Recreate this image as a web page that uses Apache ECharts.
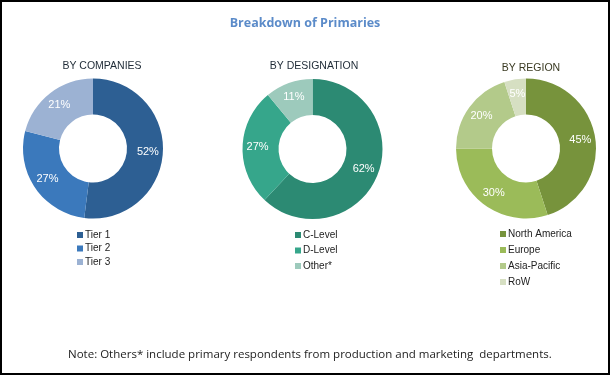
<!DOCTYPE html>
<html><head><meta charset="utf-8">
<script src="https://cdn.jsdelivr.net/npm/echarts@6/dist/echarts.min.js"></script>
<style>html,body{margin:0;padding:0;background:#fff}#c{width:610px;height:375px}</style>
</head><body><div id="c"></div>
<script>
const companyNames = ['Tier 1', 'Tier 2', 'Tier 3'];
const companyValues = [52, 27, 21];
const companyColors = ['#2D5F93', '#3B79BC', '#9CB2D3'];

const designationNames = ['C-Level', 'D-Level', 'Other*'];
const designationValues = [62, 27, 11];
const designationColors = ['#2C8A73', '#36A68B', '#9DCABC'];

const regionNames = ['North America', 'Europe', 'Asia-Pacific', 'RoW'];
const regionValues = [45, 30, 20, 5];
const regionColors = ['#77933C', '#9BBB59', '#B3CA8A', '#D6DFC2'];

const chartTitle = 'Breakdown of Primaries';
const subTitles = ['BY COMPANIES', 'BY DESIGNATION', 'BY REGION'];
const noteText = 'Note: Others* include primary respondents from production and marketing  departments.';

const FONT = '"Liberation Sans", Arial, sans-serif';

function donut(names, values, colors, cx, cy) {
  return {
    type: 'pie',
    center: [cx, cy],
    radius: [34, 70],
    startAngle: 90,
    clockwise: true,
    silent: true,
    data: names.map((n, i) => ({ name: n, value: values[i], itemStyle: { color: colors[i] } })),
    label: { show: true, position: 'inside', formatter: '{c}%', color: '#fff', fontSize: 11, fontFamily: FONT },
    labelLine: { show: false },
    itemStyle: { borderColor: '#fff', borderWidth: 0 },
    emphasis: { disabled: true }
  };
}

function legend(names, colors, left, top, gap) {
  return {
    orient: 'vertical',
    left: left, top: top,
    itemWidth: 6, itemHeight: 6, itemGap: gap,
    icon: 'rect',
    data: names,
    textStyle: { fontSize: 10, color: '#222', fontFamily: FONT, padding: [0, 0, 0, -3] },
    selectedMode: false
  };
}

const chart = echarts.init(document.getElementById('c'), null, { renderer: 'canvas' });
chart.setOption({
  animation: false,
  backgroundColor: '#fff',
  title: [
    { text: chartTitle, left: 'center', top: 12, textStyle: { color: '#5B8BC9', fontSize: 12.5, fontWeight: 'bold', fontFamily: '"Open Sans", sans-serif' } },
    { text: subTitles[0], left: 97, top: 56, textAlign: 'center', textStyle: { color: '#1E2A36', fontSize: 10.5, fontWeight: 'normal', fontFamily: FONT } },
    { text: subTitles[1], left: 309, top: 56, textAlign: 'center', textStyle: { color: '#1E2A36', fontSize: 10.5, fontWeight: 'normal', fontFamily: FONT } },
    { text: subTitles[2], left: 526, top: 58, textAlign: 'center', textStyle: { color: '#3A3A22', fontSize: 10.5, fontWeight: 'normal', fontFamily: FONT } }
  ],
  legend: [
    legend(companyNames, companyColors, 72, 225, 3.5),
    legend(designationNames, designationColors, 290, 225, 5.5),
    legend(regionNames, regionColors, 495, 224, 6)
  ],
  series: [
    donut(companyNames, companyValues, companyColors, 93, 148.5),
    donut(designationNames, designationValues, designationColors, 312.5, 149),
    donut(regionNames, regionValues, regionColors, 526, 148.5)
  ],
  graphic: [
    { type: 'rect', shape: { x: 1, y: 1, width: 608, height: 373 }, style: { fill: 'none', stroke: '#000', lineWidth: 2 }, silent: true },
    { type: 'text', left: 68, top: 349, style: { text: noteText, fill: '#222', font: '11.5px "Open Sans", sans-serif' }, silent: true }
  ]
});
</script>
</body></html>
